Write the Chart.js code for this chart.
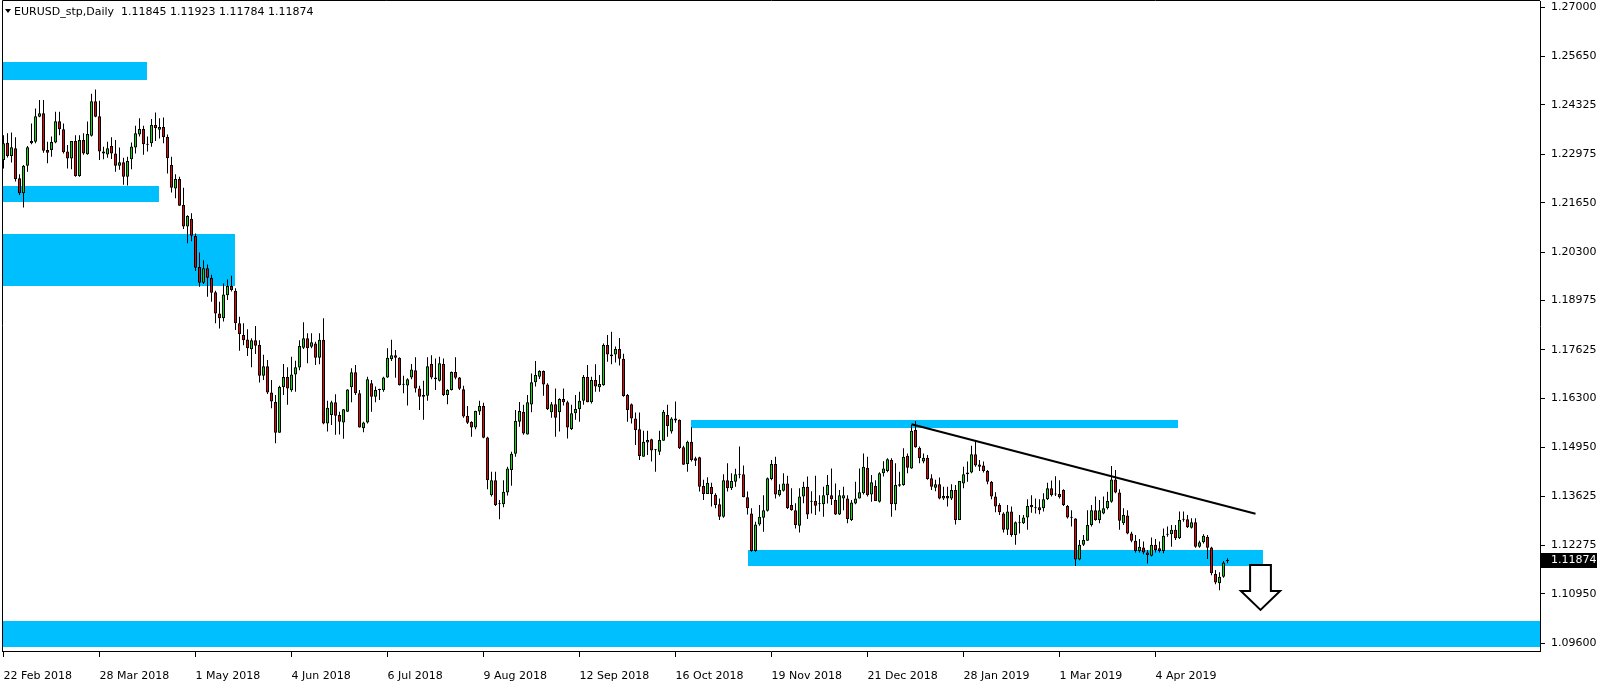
<!DOCTYPE html>
<html><head><meta charset="utf-8">
<script src="https://cdn.jsdelivr.net/npm/chart.js@4.4.1/dist/chart.umd.min.js"></script>
<style>html,body{margin:0;padding:0;background:#fff;overflow:hidden}#wrap{width:1604px;height:687px}</style>
</head><body><div id="wrap"><canvas id="c" width="1604" height="687"></canvas></div>
<script>
const symbolTitle = "EURUSD_stp,Daily";
const headerOHLC = ["1.11845", "1.11923", "1.11784", "1.11874"];

const opens = [
1.2282,1.2329,1.2293,1.2314,1.2232,1.2191,1.2266,1.2328,1.2332,1.2400,
1.2410,1.2309,1.2309,1.2330,1.2388,1.2366,1.2305,1.2286,1.2334,1.2238,
1.2337,1.2298,1.2348,1.2443,1.2402,1.2305,1.2297,1.2320,1.2300,1.2266,
1.2276,1.2236,1.2284,1.2316,1.2352,1.2367,1.2325,1.2328,1.2378,1.2365,
1.2372,1.2345,1.2268,1.2204,1.2230,1.2159,1.2100,1.2121,1.2074,1.1989,
1.1946,1.1986,1.1960,1.1920,1.1862,1.1849,1.1912,1.1937,1.1924,1.1835,
1.1803,1.1791,1.1764,1.1789,1.1776,1.1692,1.1718,1.1646,1.1620,1.1536,
1.1660,1.1688,1.1652,1.1695,1.1714,1.1768,1.1794,1.1771,1.1780,1.1741,
1.1790,1.1561,1.1584,1.1619,1.1584,1.1564,1.1593,1.1660,1.1701,1.1644,
1.1548,1.1564,1.1671,1.1634,1.1653,1.1652,1.1687,1.1737,1.1748,1.1741,
1.1668,1.1665,1.1687,1.1707,1.1657,1.1639,1.1637,1.1724,1.1687,1.1678,
1.1724,1.1639,1.1653,1.1702,1.1687,1.1655,1.1582,1.1565,1.1550,1.1594,
1.1609,1.1523,1.1365,1.1406,1.1343,1.1340,1.1372,1.1434,1.1478,1.1566,
1.1593,1.1531,1.1613,1.1674,1.1689,1.1705,1.1668,1.1592,1.1614,1.1592,
1.1628,1.1619,1.1546,1.1589,1.1600,1.1623,1.1688,1.1619,1.1680,1.1660,
1.1666,1.1776,1.1745,1.1750,1.1765,1.1738,1.1639,1.1614,1.1575,1.1545,
1.1470,1.1509,1.1518,1.1489,1.1484,1.1514,1.1584,1.1539,1.1575,1.1571,
1.1496,1.1450,1.1511,1.1466,1.1469,1.1390,1.1368,1.1387,1.1366,1.1340,
1.1306,1.1406,1.1384,1.1402,1.1422,1.1422,1.1359,1.1315,1.1212,1.1285,
1.1303,1.1322,1.1409,1.1450,1.1365,1.1377,1.1397,1.1338,1.1324,1.1281,
1.1361,1.1388,1.1347,1.1349,1.1340,1.1340,1.1365,1.1365,1.1352,1.1312,
1.1356,1.1356,1.1297,1.1342,1.1356,1.1370,1.1440,1.1367,1.1391,1.1347,
1.1425,1.1431,1.1461,1.1340,1.1391,1.1393,1.1473,1.1438,1.1543,1.1495,
1.1457,1.1467,1.1411,1.1385,1.1395,1.1356,1.1363,1.1356,1.1379,1.1297,
1.1397,1.1422,1.1427,1.1477,1.1443,1.1446,1.1431,1.1402,1.1361,1.1338,
1.1315,1.1270,1.1320,1.1256,1.1291,1.1288,1.1304,1.1338,1.1332,1.1332,
1.1329,1.1354,1.1384,1.1367,1.1368,1.1379,1.1335,1.1304,1.1301,1.1189,
1.1229,1.1240,1.1283,1.1324,1.1297,1.1315,1.1329,1.1347,1.1408,1.1372,
1.1288,1.1309,1.1260,1.1240,1.1212,1.1222,1.1208,1.1199,1.1229,1.1220,
1.1212,1.1258,1.1258,1.1270,1.1247,1.1298,1.1299,1.1276,1.1291,1.1224,
1.1236,1.1251,1.1222,1.1149,1.1124,1.1142,1.11845];

const highs = [
1.2350,1.2355,1.2357,1.2344,1.2243,1.2268,1.2320,1.2382,1.2423,1.2446,
1.2446,1.2332,1.2346,1.2414,1.2414,1.2382,1.2323,1.2334,1.2350,1.2350,
1.2355,1.2387,1.2463,1.2475,1.2444,1.2318,1.2332,1.2344,1.2337,1.2316,
1.2288,1.2291,1.2330,1.2376,1.2396,1.2376,1.2346,1.2394,1.2412,1.2396,
1.2398,1.2352,1.2291,1.2243,1.2236,1.2206,1.2131,1.2136,1.2081,1.2029,
1.2008,1.1996,1.1968,1.1924,1.1894,1.1944,1.1955,1.1965,1.1931,1.1853,
1.1835,1.1819,1.1794,1.1828,1.1789,1.1749,1.1735,1.1680,1.1639,1.1664,
1.1724,1.1715,1.1744,1.1733,1.1789,1.1838,1.1808,1.1808,1.1785,1.1808,
1.1849,1.1623,1.1623,1.1641,1.1593,1.1601,1.1655,1.1712,1.1721,1.1653,
1.1566,1.1689,1.1680,1.1662,1.1656,1.1689,1.1767,1.1790,1.1762,1.1742,
1.1692,1.1685,1.1724,1.1742,1.1664,1.1678,1.1742,1.1748,1.1739,1.1744,
1.1739,1.1655,1.1703,1.1742,1.1688,1.1664,1.1609,1.1567,1.1596,1.1623,
1.1618,1.1525,1.1429,1.1429,1.1352,1.1406,1.1443,1.1484,1.1598,1.1620,
1.1612,1.1639,1.1698,1.1732,1.1707,1.1706,1.1671,1.1620,1.1657,1.1630,
1.1657,1.1623,1.1612,1.1639,1.1648,1.1694,1.1721,1.1689,1.1723,1.1694,
1.1780,1.1803,1.1812,1.1772,1.1795,1.1752,1.1642,1.1616,1.1591,1.1591,
1.1541,1.1541,1.1519,1.1491,1.1541,1.1598,1.1612,1.1578,1.1621,1.1572,
1.1500,1.1514,1.1551,1.1470,1.1470,1.1407,1.1414,1.1399,1.1370,1.1356,
1.1422,1.1452,1.1425,1.1437,1.1498,1.1446,1.1375,1.1329,1.1292,1.1338,
1.1365,1.1413,1.1461,1.1470,1.1395,1.1425,1.1418,1.1384,1.1343,1.1384,
1.1402,1.1416,1.1376,1.1418,1.1365,1.1388,1.1420,1.1438,1.1397,1.1379,
1.1388,1.1365,1.1352,1.1402,1.1438,1.1479,1.1470,1.1420,1.1406,1.1428,
1.1458,1.1466,1.1466,1.1452,1.1429,1.1493,1.1479,1.1557,1.1568,1.1498,
1.1479,1.1475,1.1422,1.1407,1.1413,1.1388,1.1388,1.1395,1.1393,1.1404,
1.1443,1.1457,1.1500,1.1513,1.1461,1.1457,1.1434,1.1404,1.1373,1.1343,
1.1318,1.1338,1.1334,1.1293,1.1311,1.1311,1.1354,1.1365,1.1356,1.1354,
1.1370,1.1399,1.1405,1.1417,1.1406,1.1381,1.1338,1.1324,1.1302,1.1242,
1.1256,1.1324,1.1338,1.1361,1.1352,1.1361,1.1374,1.1445,1.1434,1.1381,
1.1329,1.1324,1.1265,1.1256,1.1245,1.1238,1.1215,1.1249,1.1245,1.1238,
1.1274,1.1279,1.1283,1.1283,1.1320,1.1320,1.1311,1.1302,1.1302,1.1240,
1.1258,1.1256,1.1224,1.1160,1.1154,1.1185,1.11923];

const lows = [
1.2259,1.2289,1.2275,1.2223,1.2186,1.2152,1.2250,1.2325,1.2328,1.2399,
1.2302,1.2273,1.2291,1.2328,1.2350,1.2300,1.2259,1.2257,1.2236,1.2236,
1.2296,1.2296,1.2346,1.2399,1.2282,1.2284,1.2288,1.2285,1.2250,1.2255,
1.2214,1.2212,1.2257,1.2300,1.2346,1.2296,1.2305,1.2318,1.2334,1.2341,
1.2328,1.2245,1.2193,1.2177,1.2157,1.2093,1.2054,1.2060,1.1978,1.1935,
1.1943,1.1908,1.1894,1.1835,1.1821,1.1840,1.1899,1.1922,1.1817,1.1760,
1.1775,1.1746,1.1715,1.1751,1.1673,1.1680,1.1642,1.1603,1.1507,1.1536,
1.1639,1.1612,1.1648,1.1648,1.1707,1.1765,1.1726,1.1767,1.1721,1.1723,
1.1559,1.1539,1.1557,1.1530,1.1531,1.1519,1.1593,1.1619,1.1639,1.1550,
1.1537,1.1561,1.1593,1.1619,1.1625,1.1648,1.1686,1.1732,1.1686,1.1665,
1.1644,1.1610,1.1682,1.1646,1.1598,1.1571,1.1623,1.1682,1.1653,1.1676,
1.1636,1.1614,1.1651,1.1682,1.1653,1.1577,1.1560,1.1525,1.1545,1.1584,
1.1521,1.1381,1.1361,1.1335,1.1299,1.1332,1.1364,1.1391,1.1470,1.1552,
1.1530,1.1531,1.1592,1.1662,1.1683,1.1637,1.1598,1.1577,1.1525,1.1539,
1.1610,1.1520,1.1543,1.1571,1.1566,1.1612,1.1619,1.1616,1.1648,1.1648,
1.1664,1.1730,1.1723,1.1728,1.1720,1.1634,1.1566,1.1561,1.1502,1.1461,
1.1470,1.1475,1.1457,1.1429,1.1475,1.1514,1.1525,1.1534,1.1563,1.1491,
1.1448,1.1429,1.1457,1.1445,1.1375,1.1352,1.1368,1.1334,1.1329,1.1297,
1.1303,1.1375,1.1379,1.1388,1.1411,1.1359,1.1312,1.1210,1.1210,1.1281,
1.1265,1.1320,1.1406,1.1356,1.1361,1.1375,1.1327,1.1322,1.1274,1.1263,
1.1343,1.1300,1.1315,1.1311,1.1320,1.1306,1.1342,1.1338,1.1311,1.1311,
1.1324,1.1288,1.1294,1.1340,1.1356,1.1367,1.1361,1.1347,1.1349,1.1345,
1.1416,1.1428,1.1306,1.1324,1.1388,1.1391,1.1425,1.1437,1.1495,1.1452,
1.1452,1.1407,1.1379,1.1376,1.1354,1.1352,1.1334,1.1352,1.1285,1.1297,
1.1384,1.1402,1.1425,1.1443,1.1431,1.1427,1.1395,1.1354,1.1318,1.1311,
1.1263,1.1256,1.1251,1.1229,1.1260,1.1286,1.1270,1.1317,1.1315,1.1313,
1.1320,1.1352,1.1361,1.1363,1.1356,1.1335,1.1301,1.1279,1.1171,1.1187,
1.1226,1.1240,1.1279,1.1295,1.1288,1.1313,1.1326,1.1344,1.1370,1.1270,
1.1283,1.1258,1.1236,1.1208,1.1208,1.1203,1.1178,1.1197,1.1208,1.1208,
1.1206,1.1251,1.1224,1.1242,1.1245,1.1292,1.1275,1.1274,1.1221,1.1221,
1.1233,1.1190,1.1146,1.1121,1.1105,1.1139,1.11784];

const closes = [
1.2328,1.2293,1.2317,1.2229,1.2191,1.2266,1.2317,1.2334,1.2402,1.2410,
1.2307,1.2302,1.2331,1.2388,1.2366,1.2303,1.2286,1.2334,1.2238,1.2337,
1.2300,1.2353,1.2443,1.2400,1.2305,1.2300,1.2314,1.2300,1.2266,1.2276,
1.2236,1.2279,1.2319,1.2355,1.2367,1.2325,1.2324,1.2378,1.2369,1.2372,
1.2344,1.2287,1.2206,1.2230,1.2157,1.2100,1.2129,1.2075,1.1987,1.1946,
1.1986,1.1960,1.1919,1.1862,1.1849,1.1914,1.1937,1.1926,1.1835,1.1805,
1.1789,1.1767,1.1789,1.1774,1.1692,1.1718,1.1646,1.1621,1.1536,1.1661,
1.1688,1.1657,1.1695,1.1715,1.1773,1.1794,1.1767,1.1783,1.1741,1.1790,
1.1561,1.1604,1.1619,1.1582,1.1566,1.1600,1.1654,1.1701,1.1644,1.1550,
1.1564,1.1682,1.1634,1.1653,1.1654,1.1687,1.1741,1.1748,1.1741,1.1666,
1.1667,1.1682,1.1709,1.1657,1.1634,1.1634,1.1718,1.1687,1.1682,1.1726,
1.1639,1.1653,1.1702,1.1686,1.1656,1.1580,1.1563,1.1550,1.1595,1.1609,
1.1522,1.1406,1.1406,1.1338,1.1340,1.1374,1.1438,1.1478,1.1568,1.1595,
1.1534,1.1619,1.1674,1.1694,1.1705,1.1668,1.1600,1.1614,1.1577,1.1628,
1.1619,1.1550,1.1589,1.1601,1.1623,1.1688,1.1619,1.1680,1.1662,1.1669,
1.1776,1.1750,1.1750,1.1765,1.1738,1.1636,1.1598,1.1575,1.1543,1.1472,
1.1511,1.1516,1.1487,1.1488,1.1516,1.1593,1.1554,1.1575,1.1569,1.1493,
1.1448,1.1511,1.1461,1.1459,1.1388,1.1368,1.1399,1.1368,1.1338,1.1306,
1.1406,1.1384,1.1404,1.1422,1.1421,1.1359,1.1329,1.1212,1.1285,1.1306,
1.1324,1.1411,1.1450,1.1367,1.1379,1.1397,1.1329,1.1324,1.1283,1.1361,
1.1388,1.1312,1.1347,1.1336,1.1341,1.1365,1.1393,1.1354,1.1312,1.1365,
1.1365,1.1300,1.1345,1.1356,1.1373,1.1443,1.1365,1.1400,1.1349,1.1425,
1.1438,1.1463,1.1340,1.1393,1.1395,1.1470,1.1440,1.1541,1.1496,1.1466,
1.1467,1.1409,1.1388,1.1395,1.1356,1.1363,1.1356,1.1379,1.1297,1.1404,
1.1422,1.1427,1.1477,1.1446,1.1449,1.1431,1.1402,1.1361,1.1334,1.1318,
1.1270,1.1320,1.1256,1.1291,1.1288,1.1304,1.1335,1.1332,1.1329,1.1324,
1.1354,1.1384,1.1365,1.1368,1.1359,1.1338,1.1304,1.1303,1.1189,1.1229,
1.1242,1.1283,1.1324,1.1297,1.1324,1.1329,1.1349,1.1408,1.1372,1.1295,
1.1311,1.1260,1.1240,1.1212,1.1224,1.1208,1.1201,1.1229,1.1215,1.1212,
1.1254,1.1257,1.1270,1.1247,1.1297,1.1299,1.1277,1.1291,1.1224,1.1236,
1.1254,1.1221,1.1151,1.1126,1.1142,1.1181,1.11874];

const dateTickIndex = [0, 24, 48, 72, 96, 120, 144, 168, 192, 216, 240, 264, 288];
const dateTickLabels = ["22 Feb 2018", "28 Mar 2018", "1 May 2018", "4 Jun 2018", "6 Jul 2018", "9 Aug 2018",
  "12 Sep 2018", "16 Oct 2018", "19 Nov 2018", "21 Dec 2018", "28 Jan 2019", "1 Mar 2019", "4 Apr 2019"];
const priceTicks = [1.27000, 1.25650, 1.24325, 1.22975, 1.21650, 1.20300, 1.18975, 1.17625,
  1.16300, 1.14950, 1.13625, 1.12275, 1.10950, 1.09600];

// supply / demand zones: bar-index span and price span
const zoneFrom   = [-2, -2, -2, 171.9, 186.0, -2];
const zoneTo     = [35.75, 38.85, 57.85, 293.7, 314.75, 400];
const zoneTop    = [1.2550, 1.2211, 1.2080, 1.1571, 1.1215, 1.1022];
const zoneBottom = [1.2500, 1.2168, 1.1937, 1.1550, 1.1172, 1.0949];

// descending trend line (bar index, price)
const trendIdx   = [227.0, 313.0];
const trendPrice = [1.1559, 1.1314];

// hollow "down" arrow annotation
const arrowIdx = 314.25;
const arrowPrices = [1.1174, 1.1103, 1.1051];   // shaft top, head base, tip
const arrowHalfWidths = [2.6, 4.9];              // shaft, head (in bars)

const lastPrice = 1.11874;

const BULL = '#00e400', BEAR = '#f00000', ZONE = '#00bfff';
const FONT = '"DejaVu Sans", sans-serif';

const idx = opens.map((_, i) => i);
const wickData = idx.map(i => ({x: i, y: [lows[i], highs[i]]}));
const bodyData = idx.map(i => ({x: i, y: [Math.min(opens[i], closes[i]), Math.max(opens[i], closes[i])]}));
const bodyColors = idx.map(i => closes[i] >= opens[i] ? BULL : BEAR);
const trendData = trendIdx.map((x, k) => ({x, y: trendPrice[k]}));

const zonesPlugin = {
  id: 'zones',
  beforeDatasetsDraw(chart) {
    const {ctx, chartArea: a, scales: {x, y}} = chart;
    ctx.save();
    ctx.beginPath(); ctx.rect(a.left, a.top, a.right - a.left, a.bottom - a.top); ctx.clip();
    ctx.fillStyle = ZONE;
    for (let k = 0; k < zoneFrom.length; k++) {
      const x1 = x.getPixelForValue(zoneFrom[k]), x2 = x.getPixelForValue(zoneTo[k]);
      const y1 = y.getPixelForValue(zoneTop[k]), y2 = y.getPixelForValue(zoneBottom[k]);
      ctx.fillRect(Math.round(x1), Math.round(y1), Math.round(x2) - Math.round(x1), Math.round(y2) - Math.round(y1));
    }
    ctx.restore();
  }
};

const overlayPlugin = {
  id: 'overlay',
  afterDraw(chart) {
    const {ctx, chartArea: a, scales: {x, y}} = chart;
    ctx.save();
    // frame
    ctx.strokeStyle = '#000'; ctx.lineWidth = 1;
    ctx.beginPath();
    ctx.moveTo(a.left + 0.5, a.bottom); ctx.lineTo(a.left + 0.5, a.top - 0.5); ctx.lineTo(a.right, a.top - 0.5);
    ctx.stroke();
    // arrow
    const cx = x.getPixelForValue(arrowIdx);
    const ws = x.getPixelForValue(arrowIdx + arrowHalfWidths[0]) - cx;
    const wh = x.getPixelForValue(arrowIdx + arrowHalfWidths[1]) - cx;
    const yt = y.getPixelForValue(arrowPrices[0]), yb = y.getPixelForValue(arrowPrices[1]), yp = y.getPixelForValue(arrowPrices[2]);
    ctx.beginPath();
    ctx.moveTo(cx - ws, yt); ctx.lineTo(cx + ws, yt); ctx.lineTo(cx + ws, yb); ctx.lineTo(cx + wh, yb);
    ctx.lineTo(cx, yp); ctx.lineTo(cx - wh, yb); ctx.lineTo(cx - ws, yb); ctx.closePath();
    ctx.fillStyle = '#fff'; ctx.fill();
    ctx.lineWidth = 2; ctx.strokeStyle = '#000'; ctx.stroke();
    // header
    ctx.fillStyle = '#000';
    ctx.beginPath(); ctx.moveTo(5, 9); ctx.lineTo(11, 9); ctx.lineTo(8, 13); ctx.closePath(); ctx.fill();
    ctx.font = '11px ' + FONT; ctx.textBaseline = 'middle'; ctx.textAlign = 'left';
    ctx.fillText(symbolTitle + '  ' + headerOHLC.join(' '), 14, 12);
    // last price box
    const py = Math.round(y.getPixelForValue(lastPrice));
    ctx.fillStyle = '#000';
    ctx.fillRect(a.right + 1, py - 7, 56, 15);
    ctx.fillStyle = '#fff';
    ctx.fillText(lastPrice.toFixed(5), a.right + 11, py + 0.5);
    ctx.restore();
  }
};

new Chart(document.getElementById('c').getContext('2d'), {
  type: 'bar',
  data: {
    datasets: [
      {type: 'line', data: trendData, borderColor: '#000', borderWidth: 2, pointRadius: 0, order: 0, fill: false},
      {data: bodyData, backgroundColor: bodyColors, borderColor: '#000', borderWidth: 1, borderSkipped: false,
        barThickness: 3, grouped: false, minBarLength: 1, inflateAmount: 0, order: 1},
      {data: wickData, backgroundColor: '#000', borderWidth: 0, barThickness: 1, grouped: false, inflateAmount: 0, order: 2}
    ]
  },
  options: {
    responsive: false, animation: false, devicePixelRatio: 1, events: [],
    layout: {padding: {left: 2, top: 1, right: 0, bottom: 0}},
    plugins: {legend: {display: false}, tooltip: {enabled: false}},
    scales: {
      x: {
        type: 'linear', min: -0.375, max: 384.125, offset: false,
        grid: {display: true, drawOnChartArea: false, drawTicks: true, tickLength: 6, color: '#000', offset: false},
        border: {display: true, color: '#000'},
        afterBuildTicks: s => { s.ticks = dateTickIndex.map(v => ({value: v})); },
        afterFit: s => { s.height = 36; s.paddingLeft = 0; s.paddingRight = 0; },
        ticks: {autoSkip: false, maxRotation: 0, minRotation: 0, align: 'start', padding: 13, color: '#000',
          font: {family: FONT, size: 11}, callback: (v, i) => dateTickLabels[i]}
      },
      y: {
        type: 'linear', position: 'right', min: 1.09386, max: 1.27170,
        grid: {display: true, drawOnChartArea: false, drawTicks: true, tickLength: 5, color: '#000'},
        border: {display: true, color: '#000'},
        afterBuildTicks: s => { s.ticks = priceTicks.map(v => ({value: v})); },
        afterFit: s => { s.width = 64; s.paddingTop = 0; s.paddingBottom = 0; },
        ticks: {autoSkip: false, padding: 6, color: '#000', font: {family: FONT, size: 11},
          callback: v => Number(v).toFixed(5)}
      }
    }
  },
  plugins: [zonesPlugin, overlayPlugin]
});
</script>
</body></html>
